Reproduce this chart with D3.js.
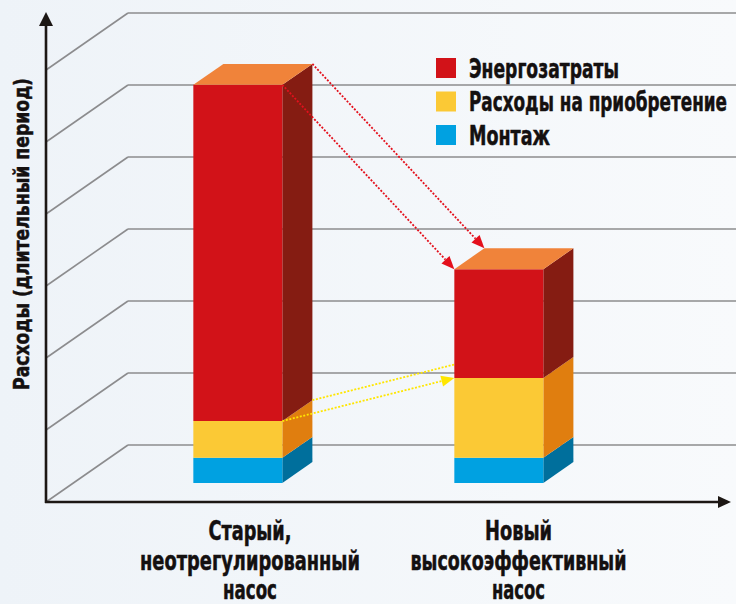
<!DOCTYPE html>
<html>
<head>
<meta charset="utf-8">
<script src="https://cdn.jsdelivr.net/npm/d3@7"></script>
<style>
  body { margin: 0; }
  svg { display: block; }
  text { font-family: "Liberation Sans Narrow", "DejaVu Sans Condensed", "Roboto Condensed", sans-serif; font-weight: bold; fill: #141010; stroke: #141010; stroke-width: 0.5; }
</style>
</head>
<body>
<div id="chart"></div>
<script>
// data
const categories = ["Старый, неотрегулированный насос", "Новый высокоэффективный насос"];
const categoryLines = [["Старый,", "неотрегулированный", "насос"], ["Новый", "высокоэффективный", "насос"]];
const seriesNames = ["Монтаж", "Расходы на приобретение", "Энергозатраты"];
const montage = [0.35, 0.35];
const purchase = [0.51, 1.11];
const energy = [4.67, 1.51];
const gridTicks = [0, 1, 2, 3, 4, 5, 6];
const legendOrder = ["Энергозатраты", "Расходы на приобретение", "Монтаж"];

const frontColors = { "Монтаж": "#00a1e1", "Расходы на приобретение": "#fbc935", "Энергозатраты": "#d21218" };
const sideColors = { "Монтаж": "#006f9c", "Расходы на приобретение": "#e07e0f", "Энергозатраты": "#851c12" };
const topColor = "#f0833a";

// widths the condensed face takes in the original, used to squeeze the fallback font
const labelWidths = [[83, 220, 54], [67, 216, 53]];
const legendWidths = { "Энергозатраты": 150, "Расходы на приобретение": 258, "Монтаж": 81 };

const W = 736, H = 604;
const origin = { x: 46, y: 502 };
const depth = { x: 82, y: -57 };   // full floor depth on screen
const barDepth = [1 / 3, 0.7];     // bars sit between these depth fractions
const barW = 89;

const svg = d3.select("#chart").append("svg").attr("width", W).attr("height", H);

const defs = svg.append("defs");
const bg = defs.append("linearGradient").attr("id", "bg").attr("x1", 0).attr("x2", 1).attr("y1", 0).attr("y2", 0);
bg.append("stop").attr("offset", "0%").attr("stop-color", "#eef3f8");
bg.append("stop").attr("offset", "100%").attr("stop-color", "#f8fafc");
svg.append("rect").attr("width", W).attr("height", H).attr("fill", "url(#bg)");

const yScale = d3.scaleLinear().domain([0, 7]).range([origin.y, origin.y - 504]);
const xScale = d3.scalePoint().domain(categories).range([166, 427]);

// project a front-plane point (x, value) into depth d
function P(x, v, d) {
  return [x + depth.x * d, yScale(v) + depth.y * d];
}

const stack = d3.stack().keys(seriesNames)(categories.map((c, i) => ({
  cat: c, "Монтаж": montage[i], "Расходы на приобретение": purchase[i], "Энергозатраты": energy[i]
})));

// back wall grid
const grid = svg.append("g").attr("stroke", "#8c8c8e").attr("stroke-width", 1.6).attr("fill", "none");
gridTicks.forEach(k => {
  const a = P(origin.x, k, 0), b = P(origin.x, k, 1);
  grid.append("line").attr("x1", a[0]).attr("y1", a[1]).attr("x2", b[0]).attr("y2", b[1]);
  grid.append("line").attr("x1", b[0]).attr("y1", b[1]).attr("x2", W).attr("y2", b[1]);
});

// axes with arrows
const axes = svg.append("g");
axes.append("line").attr("x1", origin.x).attr("y1", origin.y + 1).attr("x2", origin.x).attr("y2", 22)
  .attr("stroke", "#1c1714").attr("stroke-width", 2.6);
axes.append("path").attr("d", `M${origin.x - 7},26 L${origin.x},12 L${origin.x + 7},26 Z`).attr("fill", "#1c1714");
axes.append("line").attr("x1", origin.x - 1).attr("y1", origin.y).attr("x2", 722).attr("y2", origin.y)
  .attr("stroke", "#1c1714").attr("stroke-width", 2.6);
axes.append("path").attr("d", `M718,${origin.y - 6} L731,${origin.y} L718,${origin.y + 6} Z`).attr("fill", "#1c1714");

svg.append("text")
  .attr("transform", `translate(29,234) rotate(-90)`)
  .attr("text-anchor", "middle")
  .attr("font-size", 22)
  .attr("textLength", 312).attr("lengthAdjust", "spacingAndGlyphs")
  .text("Расходы (длительный период)");

function drawBar(i) {
  const x0 = xScale(categories[i]);
  const g = svg.append("g");
  stack.forEach(layer => {
    const key = layer.key;
    const [v0, v1] = layer[i];
    const fl = P(x0, v0, barDepth[0]), fr = P(x0 + barW, v0, barDepth[0]);
    const tl = P(x0, v1, barDepth[0]), tr = P(x0 + barW, v1, barDepth[0]);
    const br0 = P(x0 + barW, v0, barDepth[1]), br1 = P(x0 + barW, v1, barDepth[1]);
    g.append("polygon").attr("points", [fr, br0, br1, tr].join(" ")).attr("fill", sideColors[key]);
    g.append("polygon").attr("points", [fl, fr, tr, tl].join(" ")).attr("fill", frontColors[key]);
  });
  const total = montage[i] + purchase[i] + energy[i];
  g.append("polygon")
    .attr("points", [P(x0, total, barDepth[0]), P(x0 + barW, total, barDepth[0]),
      P(x0 + barW, total, barDepth[1]), P(x0, total, barDepth[1])].join(" "))
    .attr("fill", topColor);
}

function arrow(a, b, color, head) {
  const g = svg.append("g");
  const ang = Math.atan2(b[1] - a[1], b[0] - a[0]);
  const L = head ? 13 : 0;
  const e = [b[0] - L * Math.cos(ang), b[1] - L * Math.sin(ang)];
  g.append("line").attr("x1", a[0]).attr("y1", a[1]).attr("x2", e[0]).attr("y2", e[1])
    .attr("stroke", color).attr("stroke-width", 1.8).attr("stroke-dasharray", "2,1.6");
  if (head) {
    const w = 5.5, nx = -Math.sin(ang), ny = Math.cos(ang);
    g.append("path")
      .attr("d", `M${b[0]},${b[1]} L${e[0] + nx * w},${e[1] + ny * w} L${e[0] - nx * w},${e[1] - ny * w} Z`)
      .attr("fill", color);
  }
}

drawBar(0);

// arrows from old pump to new pump
const xa = xScale(categories[0]) + barW, xb = xScale(categories[1]);
const tot0 = montage[0] + purchase[0] + energy[0], tot1 = montage[1] + purchase[1] + energy[1];
const ye0 = montage[0] + purchase[0], ye1 = montage[1] + purchase[1];
arrow(P(xa, ye0, barDepth[1]), P(xb, ye1, barDepth[1]), "#ffe600", false);
arrow(P(xa, ye0, barDepth[0]), P(xb, ye1, barDepth[0]), "#ffe600", true);
arrow(P(xa, tot0, barDepth[1]), P(xb, tot1, barDepth[1]), "#e4101c", true);
arrow(P(xa, tot0, barDepth[0]), P(xb, tot1, barDepth[0]), "#e4101c", true);

drawBar(1);

// category labels
const labelCx = [250, 518.5];
categoryLines.forEach((lines, i) => {
  lines.forEach((l, j) => {
    const w = labelWidths[i][j];
    svg.append("text")
      .attr("x", labelCx[i] - w / 2).attr("y", 540 + j * 29.5)
      .attr("font-size", 26)
      .attr("textLength", w).attr("lengthAdjust", "spacingAndGlyphs")
      .text(l);
  });
});

// legend
const legend = svg.append("g").attr("transform", "translate(436,58)");
legendOrder.forEach((name, i) => {
  const row = legend.append("g").attr("transform", `translate(0,${i * 33.5})`);
  row.append("rect").attr("width", 20).attr("height", 20).attr("fill", frontColors[name]);
  row.append("text").attr("x", 33).attr("y", 19.5).attr("font-size", 26)
    .attr("textLength", legendWidths[name]).attr("lengthAdjust", "spacingAndGlyphs")
    .text(name);
});
</script>
</body>
</html>
